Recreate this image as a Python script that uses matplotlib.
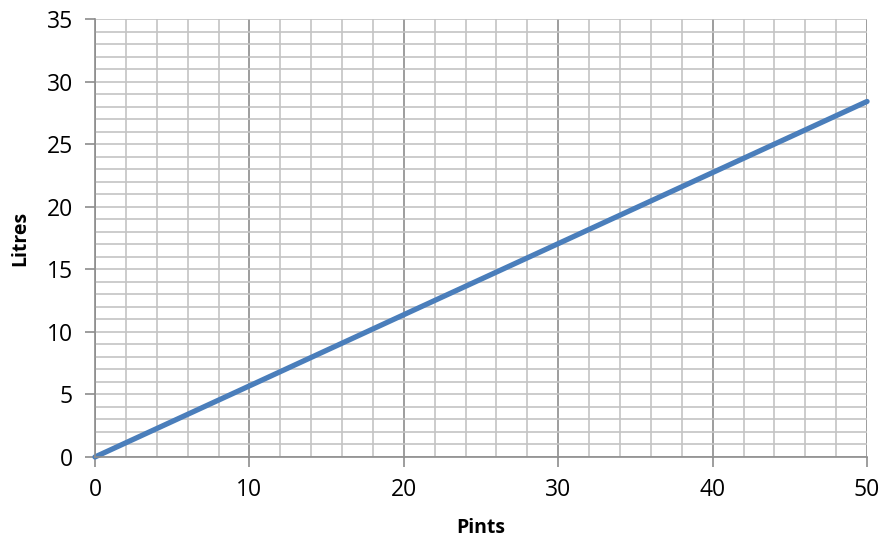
import numpy as np
import matplotlib
matplotlib.use("Agg")
import matplotlib.pyplot as plt
from matplotlib.ticker import MultipleLocator

# pints -> litres conversion line
pints = [0, 10, 20, 30, 40, 50]
litres = [0, 5.68, 11.37, 17.05, 22.73, 28.41]

plt.rcParams["font.family"] = ["Open Sans", "DejaVu Sans"]

fig = plt.figure(figsize=(8.86, 5.43), dpi=100)
ax = fig.add_axes([0.1072, 0.1584, 0.8714, 0.8066])

ax.set_xlim(0, 50)
ax.set_ylim(0, 35)
ax.xaxis.set_major_locator(MultipleLocator(10))
ax.xaxis.set_minor_locator(MultipleLocator(2))
ax.yaxis.set_major_locator(MultipleLocator(5))
ax.yaxis.set_minor_locator(MultipleLocator(1))

# grid: vertical majors darker, everything else light
ax.grid(True, axis="x", which="major", color="#8c8c8c", lw=1.2)
ax.grid(True, axis="x", which="minor", color="#c4c4c4", lw=1.2)
ax.grid(True, axis="y", which="both", color="#c4c4c4", lw=1.2)
ax.set_axisbelow(True)

ax.plot(pints, litres, color="#4a7ebb", lw=3.8, solid_capstyle="round", clip_on=False)

for s in ("top", "right"):
    ax.spines[s].set_visible(False)
for s in ("left", "bottom"):
    ax.spines[s].set_color("#8c8c8c")
    ax.spines[s].set_linewidth(1.2)

ax.tick_params(which="major", length=7, width=1.2, color="#8c8c8c",
               labelsize=16.5, pad=8)
ax.tick_params(axis="y", pad=9)
ax.tick_params(which="minor", length=0)

ax.set_xlabel("Pints", fontsize=14, fontweight="bold", labelpad=12)
ax.set_ylabel("Litres", fontsize=14, fontweight="bold", labelpad=12)

fig.savefig("out.png", dpi=100)
